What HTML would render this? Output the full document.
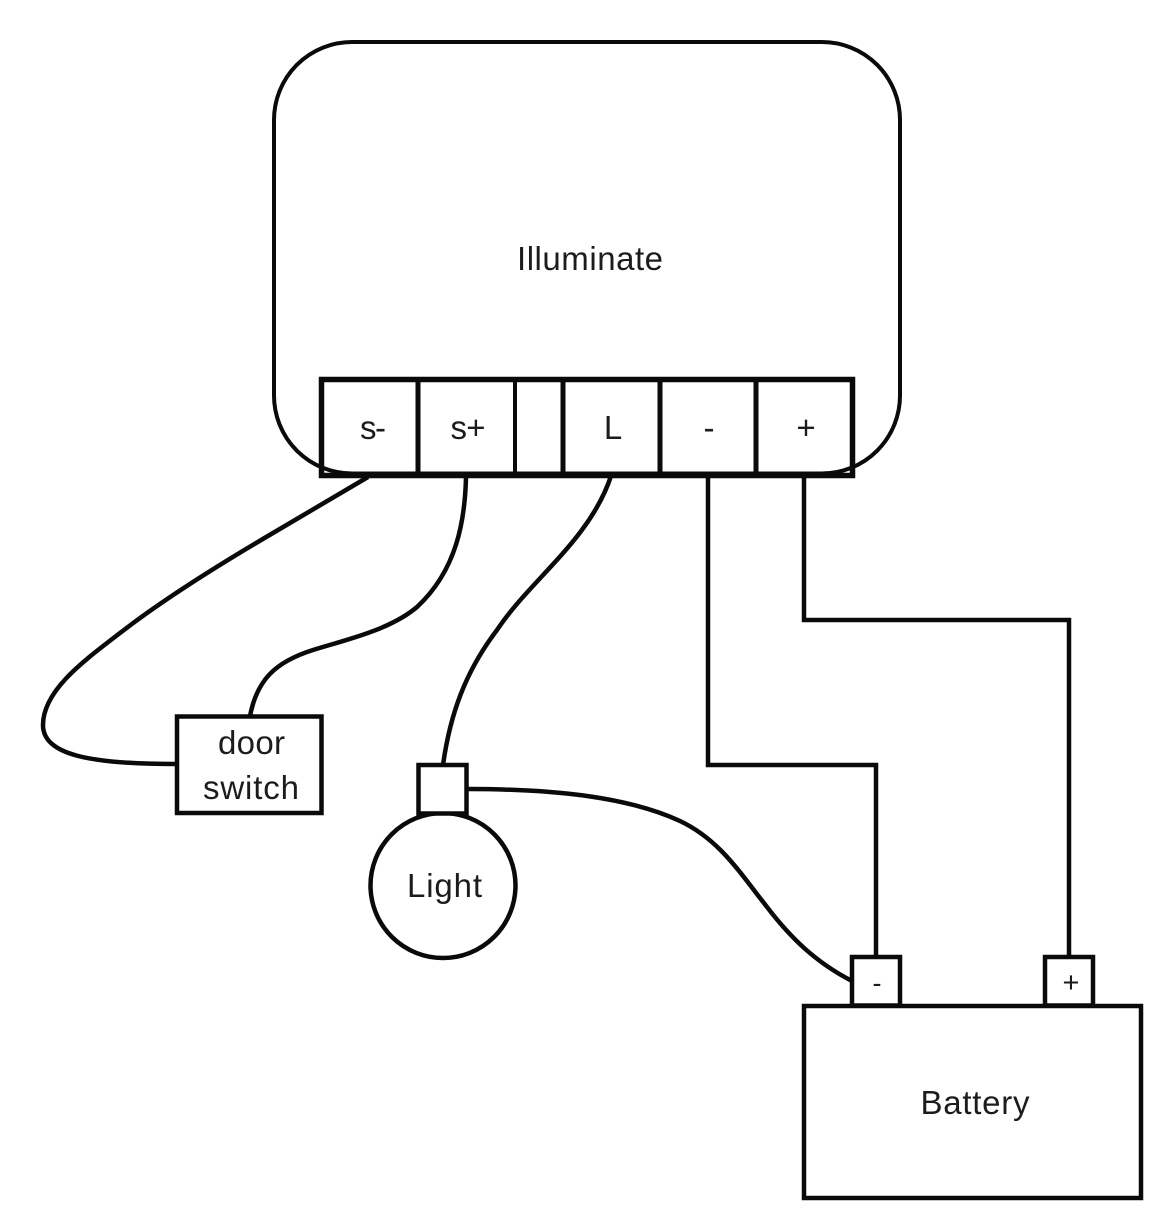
<!DOCTYPE html>
<html>
<head>
<meta charset="utf-8">
<style>
html,body{margin:0;padding:0;background:#fff;width:1174px;height:1224px;overflow:hidden}
svg{display:block}
text{font-family:"Liberation Sans",sans-serif;font-size:33px;fill:#1c1c1c;text-anchor:middle}
.s{fill:none;stroke:#0a0a0a;stroke-width:4.5}
.b{fill:#fff;stroke:#0a0a0a;stroke-width:4.5}
</style>
</head>
<body>
<svg width="1174" height="1224" viewBox="0 0 1174 1224" xmlns="http://www.w3.org/2000/svg">
<rect x="321.5" y="379.5" width="531" height="96" fill="#fff" stroke="#0a0a0a" stroke-width="5.5"/>
<path class="s" style="stroke-width:5" d="M418 379V475M660 379V475M756 379V475M563 379V475"/>
<path class="s" style="stroke-width:4" d="M515 379V475"/>
<rect x="274" y="42" width="626" height="431.5" rx="78" ry="78" fill="none" stroke="#0a0a0a" stroke-width="4"/>
<text x="590" y="270" textLength="146">Illuminate</text>
<text x="373" y="439" textLength="26">s-</text>
<text x="468" y="439" textLength="35">s+</text>
<text x="613" y="439">L</text>
<text x="709" y="439">-</text>
<text x="806" y="439">+</text>

<path class="s" d="M368 477L273 533C215 567 160 602 120 633C85 660 43 690 43 725C43 755 90 764 176 764"/>
<path class="s" d="M466 477C465 520 457 570 417 607C390 630 345 640 313 650C275 662 257 680 250 716"/>
<path class="s" d="M611 476C590 540 530 580 497 630C465 672 450 715 443 765"/>
<path class="s" d="M708 476V765H876V957"/>
<path class="s" d="M804 476V620H1069V957"/>
<path class="s" d="M467 789C560 789 630 798 680 821C720 840 740 873 767 907C790 937 815 962 852 981"/>

<rect class="b" x="177" y="716.5" width="144.5" height="96.5"/>
<text x="251.5" y="754" textLength="67">door</text>
<text x="251" y="799" textLength="96">switch</text>

<circle class="b" cx="443" cy="885.5" r="72.5"/>
<rect class="b" x="418.5" y="765" width="48" height="48.5"/>
<text x="444.5" y="897" textLength="75">Light</text>

<rect class="b" x="804" y="1006" width="337" height="192"/>
<rect class="b" x="852" y="957" width="48" height="48.5"/>
<rect class="b" x="1045" y="957" width="48" height="48.5"/>
<text x="975" y="1114" textLength="109">Battery</text>
<text x="877" y="992" style="font-size:27px">-</text>
<text x="1071" y="992" style="font-size:29px">+</text>
</svg>
</body>
</html>
